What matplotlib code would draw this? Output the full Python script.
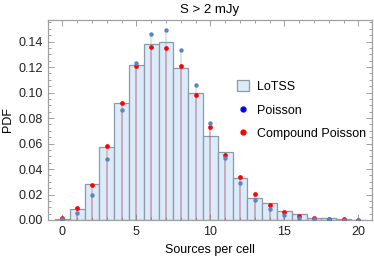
import numpy as np
import matplotlib.pyplot as plt
from matplotlib.lines import Line2D
from matplotlib.patches import Patch
from matplotlib.ticker import MultipleLocator

plt.rcParams['font.family'] = ['Liberation Sans', 'DejaVu Sans']

# datos
counts = np.arange(0, 21)
lotss = [0.001, 0.0084, 0.028, 0.057, 0.092, 0.122, 0.138, 0.1395, 0.119, 0.100,
         0.066, 0.053, 0.033, 0.0176, 0.013, 0.007, 0.0045, 0.0018, 0.0013, 0.0005, 0.0003]
poisson = [0.0005, 0.0055, 0.020, 0.048, 0.086, 0.123, 0.146, 0.149, 0.1335, 0.106,
           0.076, 0.049, 0.029, 0.016, 0.0084, 0.004, 0.0018, 0.0009, 0.0004, 0.0002, 0.0001]
compound = [0.0013, 0.0092, 0.0278, 0.0577, 0.0917, 0.121, 0.136, 0.1353, 0.121, 0.098,
            0.0733, 0.051, 0.0335, 0.0207, 0.012, 0.0066, 0.0034, 0.0018, 0.001, 0.0006, 0.0003]

fig = plt.figure(figsize=(3.74, 2.59), dpi=100)
ax = fig.add_axes([0.129, 0.1506, 0.865, 0.7724])

bar_face = '#dcebfa'
bar_edge = '#8c9aa8'
ax.bar(counts, lotss, width=1.0, color=bar_face, edgecolor=bar_edge, linewidth=0.9, zorder=1)

# rellenos hasta el eje (estilo DiscretePlot)
ax.vlines(counts, 0, poisson, color='#5b84c4', alpha=0.25, linewidth=1.2, zorder=2)
ax.vlines(counts, 0, compound, color='#e0303a', alpha=0.3, linewidth=1.2, zorder=2)
ax.plot(counts, poisson, 'o', color='#5b84c4', markersize=3.2, markeredgewidth=0, zorder=4)
ax.plot(counts, compound, 'o', color='red', markersize=3.4, markeredgewidth=0, zorder=3)

ax.set_xlim(-0.95, 20.9)
ax.set_ylim(0, 0.157)
ax.xaxis.set_major_locator(MultipleLocator(5))
ax.xaxis.set_minor_locator(MultipleLocator(1))
ax.yaxis.set_major_locator(MultipleLocator(0.02))
ax.yaxis.set_minor_locator(MultipleLocator(0.005))
ax.yaxis.set_major_formatter(plt.FuncFormatter(lambda v, p: '%.2f' % v))

frame = '#a0a0a0'
for s in ax.spines.values():
    s.set_color(frame)
    s.set_linewidth(0.9)
ax.tick_params(which='both', direction='in', top=True, right=True, color=frame,
               labelsize=9, labelcolor='#222222', width=0.7)
ax.tick_params(which='major', length=4, pad=4)
ax.tick_params(which='minor', length=2)

ax.set_title('S > 2 mJy', fontsize=9.5, pad=5)
ax.set_xlabel('Sources per cell', fontsize=9, labelpad=5)
ax.set_ylabel('PDF', fontsize=9, labelpad=3)

handles = [Patch(facecolor=bar_face, edgecolor=bar_edge, linewidth=0.9),
           Line2D([], [], marker='o', color='blue', linestyle='none', markersize=3.5),
           Line2D([], [], marker='o', color='red', linestyle='none', markersize=3.5)]
ax.legend(handles, ['LoTSS', 'Poisson', 'Compound Poisson'], loc='upper left',
          bbox_to_anchor=(0.548, 0.755), frameon=False, fontsize=9,
          handlelength=1.0, handleheight=1.0, handletextpad=0.6, labelspacing=0.85)

fig.savefig('out.png', dpi=100)
